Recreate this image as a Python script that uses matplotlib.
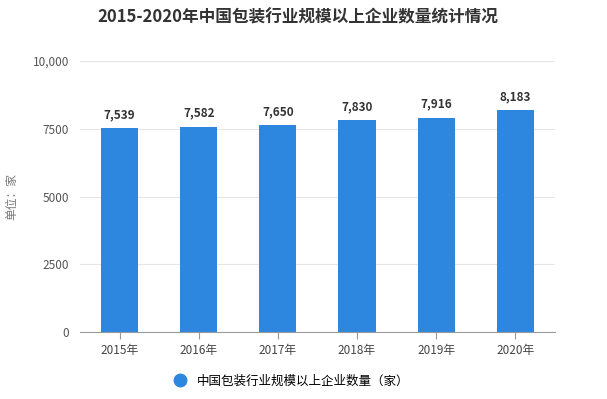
import matplotlib.pyplot as plt
import numpy as np
from matplotlib.lines import Line2D

plt.rcParams['font.family'] = ['Noto Sans CJK SC', 'DejaVu Sans']

years = ["2015年", "2016年", "2017年", "2018年", "2019年", "2020年"]
counts = [7539, 7582, 7650, 7830, 7916, 8183]
y_ticks = [0, 2500, 5000, 7500, 10000]
y_tick_labels = ["0", "2500", "5000", "7500", "10,000"]

title = "2015-2020年中国包装行业规模以上企业数量统计情况"
series_name = "中国包装行业规模以上企业数量（家）"
bar_color = "#2d87de"

fig = plt.figure(figsize=(6.07, 3.99), dpi=100)
ax = fig.add_axes([0.132, 0.168, 0.782, 0.679])

x = np.arange(len(years))
ax.bar(x, counts, width=0.47, color=bar_color, zorder=2)
for xi, v in zip(x, counts):
    ax.text(xi, v + 250, f"{v:,}", ha="center", va="bottom",
            fontsize=8.5, fontweight="bold", color="#333333")

ax.set_xlim(-0.5, len(years) - 0.5)
ax.set_ylim(0, 10000)
ax.set_yticks(y_ticks)
ax.set_yticklabels(y_tick_labels)
ax.set_xticks(x)
ax.set_xticklabels(years)
ax.tick_params(axis="y", length=0, labelsize=8.5, labelcolor="#555555", pad=8)
ax.tick_params(axis="x", length=5, color="#999999", labelsize=8.5,
               labelcolor="#444444")
ax.grid(axis="y", color="#e6e6e6", linewidth=0.8, zorder=0)
for s in ["top", "right", "left"]:
    ax.spines[s].set_visible(False)
ax.spines["bottom"].set_color("#999999")

ax.set_ylabel("单位：家", fontsize=8.5, color="#777777", labelpad=10)

fig.text(0.49, 0.955, title, ha="center", va="center", fontsize=12,
         fontweight="bold", color="#333333")

handle = Line2D([], [], marker="o", linestyle="none", markersize=9,
                markerfacecolor=bar_color, markeredgecolor=bar_color)
fig.legend([handle], [series_name], loc="center", bbox_to_anchor=(0.475, 0.045),
           frameon=False, fontsize=9, handletextpad=0.4)

fig.savefig("out.png", dpi=100)
